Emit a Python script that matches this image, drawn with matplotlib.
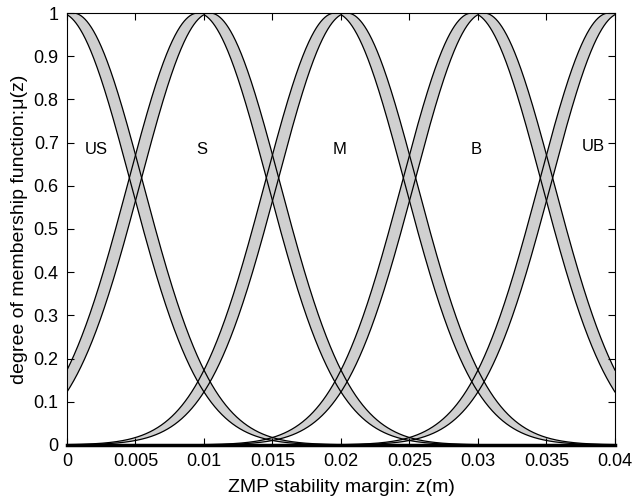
import numpy as np
import matplotlib
matplotlib.use('Agg')
import matplotlib.pyplot as plt

# membership function centres, labels and label positions
centres = [0.0, 0.01, 0.02, 0.03, 0.04]
labels = ['US', 'S', 'M', 'B', 'UB']
label_x = [0.0021, 0.00985, 0.0199, 0.0299, 0.0384]
label_y = [0.683, 0.683, 0.683, 0.683, 0.692]
sigma = 0.0051       # spread of each gaussian
delta = 0.00045      # uncertainty of the mean

xticks = [0, 0.005, 0.01, 0.015, 0.02, 0.025, 0.03, 0.035, 0.04]
xticklabels = ['0', '0.005', '0.01', '0.015', '0.02', '0.025', '0.03', '0.035', '0.04']
yticks = [0, 0.1, 0.2, 0.3, 0.4, 0.5, 0.6, 0.7, 0.8, 0.9, 1]
yticklabels = ['0', '0.1', '0.2', '0.3', '0.4', '0.5', '0.6', '0.7', '0.8', '0.9', '1']

plt.rcParams['font.family'] = ['Liberation Sans', 'DejaVu Sans']

def gauss(x, m, s):
    return np.exp(-(x - m) ** 2 / (2 * s ** 2))

fig = plt.figure(figsize=(6.32, 5.01), dpi=100)
ax = fig.add_axes([0.106, 0.112, 0.867, 0.862])

x = np.linspace(0, 0.04, 2000)
for c in centres:
    g1 = gauss(x, c - delta, sigma)
    g2 = gauss(x, c + delta, sigma)
    upper = np.where((x >= c - delta) & (x <= c + delta), 1.0, np.maximum(g1, g2))
    lower = np.minimum(g1, g2)
    ax.fill_between(x, lower, upper, facecolor='#d0d0d0', edgecolor='none')
    ax.plot(x, upper, color='black', lw=0.9)
    ax.plot(x, lower, color='black', lw=0.9)

for lab, lx, ly in zip(labels, label_x, label_y):
    ax.text(lx, ly, lab, ha='center', va='center', fontsize=12)

ax.set_xlim(0, 0.04)
ax.set_ylim(0, 1)
ax.set_xticks(xticks)
ax.set_xticklabels(xticklabels)
ax.set_yticks(yticks)
ax.set_yticklabels(yticklabels)
ax.tick_params(direction='in', top=True, right=True, length=5, labelsize=13, pad=6)
ax.spines['bottom'].set_linewidth(2.5)
ax.set_xlabel('ZMP stability margin: z(m)', fontsize=14, labelpad=6)
ax.set_ylabel('degree of membership function:μ(z)', fontsize=14)

plt.savefig('out.png')
